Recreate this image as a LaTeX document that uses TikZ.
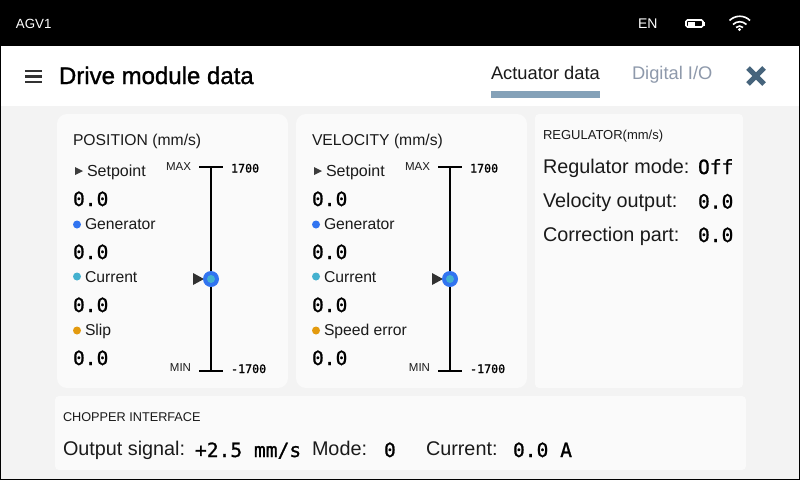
\documentclass[tikz,border=0pt]{standalone}
\usepackage{fontspec}
\setmainfont{Liberation Sans}
\newfontfamily\monof[FakeBold=1]{DejaVu Sans Mono}
\newfontfamily\medf[FakeBold=1.2]{Liberation Sans}
\definecolor{pagebg}{HTML}{F3F3F3}
\definecolor{cardbg}{HTML}{FAFAFA}
\definecolor{tabbar}{HTML}{84A1B8}
\definecolor{tabgrey}{HTML}{8E99AB}
\definecolor{closex}{HTML}{46647C}
\definecolor{dotblue}{HTML}{3174F0}
\definecolor{dotcyan}{HTML}{44B1CF}
\definecolor{dotorange}{HTML}{E39A0E}
\definecolor{ink}{HTML}{1A1A1A}
\tikzset{
  lab/.style={anchor=base west,inner sep=0pt,outer sep=0pt,text=ink,font=\fontsize{#1}{#1}\selectfont},
  val/.style={anchor=base west,inner sep=0pt,outer sep=0pt,text=black,font=\monof\fontsize{#1}{#1}\selectfont},
  card/.style={fill=cardbg,draw=none,rounded corners=#1},
  axisline/.style={line width=2.4pt,black},
  dot/.style={circle,fill=#1,inner sep=0pt,minimum size=8pt},
}
\newcommand{\gauge}[4]{%
 % #1 x-left of text, #2 x axis, #3 title, #4 last label
 \node[lab=15.7] at (#1,145) {#3};
 \fill[ink!85] (#1+2,167) -- (#1+2,175) -- (#1+10,171) -- cycle;
 \node[lab=16] at (#1+14,176.5) {Setpoint};
 \node[val=19.6] at (#1,206) {0.0};
 \node[dot=dotblue] at (#1+4,224.5) {};
 \node[lab=15.7] at (#1+12,229.5) {Generator};
 \node[val=19.6] at (#1,259) {0.0};
 \node[dot=dotcyan] at (#1+4,276.5) {};
 \node[lab=15.7] at (#1+12,282.5) {Current};
 \node[val=19.6] at (#1,312) {0.0};
 \node[dot=dotorange] at (#1+4,330.5) {};
 \node[lab=15.7] at (#1+12,335.5) {#4};
 \node[val=19.6] at (#1,365) {0.0};
 \node[lab=11.5,anchor=base east] at (#2-20,170) {MAX};
 \node[lab=11.5,anchor=base east] at (#2-20,371) {MIN};
 \node[val=11.7] at (#2+20,172.5) {1700};
 \node[val=11.7] at (#2+20,373) {-1700};
 \draw[axisline] (#2-12,167) -- (#2+12,167);
 \draw[axisline] (#2-12,371) -- (#2+12,371);
 \draw[axisline] (#2,167) -- (#2,371);
 \fill[ink!90] (#2-18,273) -- (#2-18,285) -- (#2-7,279) -- cycle;
 \fill[dotblue] (#2,279) circle (8);
 \fill[dotcyan] (#2,279) circle (4);
}
\begin{document}
\begin{tikzpicture}[x=1pt,y=-1pt]
\useasboundingbox (0,0) rectangle (800,480);
% frame
\fill[black] (0,0) rectangle (800,480);
\fill[white] (1,46) rectangle (799,106);
\fill[pagebg] (1,106) rectangle (799,479);
% status bar
\node[lab=13.3,text=white] (agv) at (16,28) {AGV1};
\node[lab=14,text=white] (lang) at (638,28) {EN};
\draw[white,line width=1.6pt,rounded corners=1.5pt] (686,20) rectangle (703,27);
\fill[white] (703.5,22) rectangle (705,25.5);
\fill[white] (688,21.5) rectangle (694.5,25.5);
% wifi
\begin{scope}[white,line width=1.6pt]
\draw (729.5,20.5) arc[start angle=225,end angle=315,radius=14.5];
\draw (733,24.5) arc[start angle=225,end angle=315,radius=9.5];
\draw (736,27.5) arc[start angle=225,end angle=315,radius=5];
\end{scope}
\fill[white] (739.5,29.5) circle (1.7);
% header
\draw[line width=2.6pt,black!80] (25,71) -- (42,71) (25,76.5) -- (42,76.5) (25,82) -- (42,82);
\node[lab=24,text=black,font=\medf\fontsize{24}{24}\selectfont] (title) at (59,84) {Drive module data};
\node[lab=18.3] (tab1) at (491,79) {Actuator data};
\node[lab=18.3,text=tabgrey] (tab2) at (632,79) {Digital I/O};
\fill[tabbar] (491,91) rectangle (600,98);
\draw[closex,line width=5pt] (748,68) -- (764,84) (764,68) -- (748,84);
% cards
\fill[card=10] (57,114) rectangle (288,388);
\fill[card=10] (296,114) rectangle (527,388);
\fill[card=4] (535,114) rectangle (743,388);
\fill[card=4] (55,396) rectangle (746,470);
\gauge{73}{211}{POSITION (mm/s)}{Slip}
\gauge{312}{450}{VELOCITY (mm/s)}{Speed error}
% regulator
\node[lab=13] (rt) at (543,139) {REGULATOR(mm/s)};
\node[lab=19.8] (r1) at (543,173) {Regulator mode:};
\node[val=19.6] (r1v) at (698,174) {Off};
\node[lab=19.8] (r2) at (543,207) {Velocity output:};
\node[val=19.6] (r2v) at (698,208.5) {0.0};
\node[lab=19.8] (r3) at (543,241) {Correction part:};
\node[val=19.6] (r3v) at (698,242) {0.0};
% chopper
\node[lab=12.7] (ct) at (63,421) {CHOPPER INTERFACE};
\node[lab=19.8] (c1) at (63,455.5) {Output signal:};
\node[val=19.6] (c1v) at (195,457) {+2.5 mm/s};
\node[lab=19.8] (c2) at (312,455.5) {Mode:};
\node[val=19.6] (c2v) at (384,457) {0};
\node[lab=19.8] (c3) at (426,455.5) {Current:};
\node[val=19.6] (c3v) at (513,457) {0.0 A};
\end{tikzpicture}
\end{document}
